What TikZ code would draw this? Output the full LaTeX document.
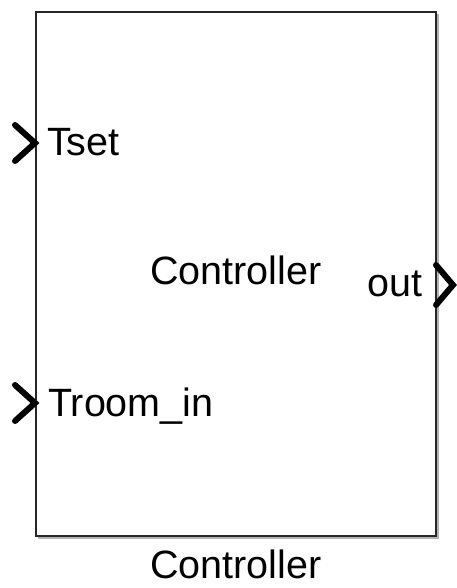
\documentclass[tikz,border=0pt]{standalone}
\usepackage{fontspec}
\setmainfont{Liberation Sans}
\begin{document}
\begin{tikzpicture}[x=1pt,y=-1pt,
  lbl/.style={inner sep=0pt,font=\fontsize{39.5}{41}\selectfont},
  chev/.style={line width=6pt,line cap=round,line join=miter},
  blk/.style={draw=black!85,line width=2.2pt,fill=white}]
\useasboundingbox (0,0) rectangle (457,588);
% shadow
\draw[black!30,line width=4pt] (38,537) -- (437,537) -- (437,14);
\node[blk,minimum width=400pt,minimum height=524pt,inner sep=0pt,anchor=north west] (box) at (35,11) {};
% ports
\coordinate (p1) at (35,143);
\coordinate (p2) at (35,403);
\coordinate (p3) at (437,285);
\draw[chev] ([xshift=-20pt,yshift=-18pt]p1) -- (p1) -- ([xshift=-20pt,yshift=18pt]p1);
\draw[chev] ([xshift=-20pt,yshift=-18pt]p2) -- (p2) -- ([xshift=-20pt,yshift=18pt]p2);
\draw[chev] (p3) ++(-1,-20) -- ([xshift=16pt]p3) -- ++(-17,20);
\node[lbl,anchor=base west] (tset) at (47,156) {Tset};
\node[lbl,anchor=base west] (troom) at (48,416) {Troom\_in};
\node[lbl,anchor=base east] (out) at (423,296) {out};
\node[lbl,anchor=base] (ctr) at (236,284) {Controller};
\node[lbl,anchor=base] (name) at (236,578) {Controller};
\end{tikzpicture}
\end{document}
